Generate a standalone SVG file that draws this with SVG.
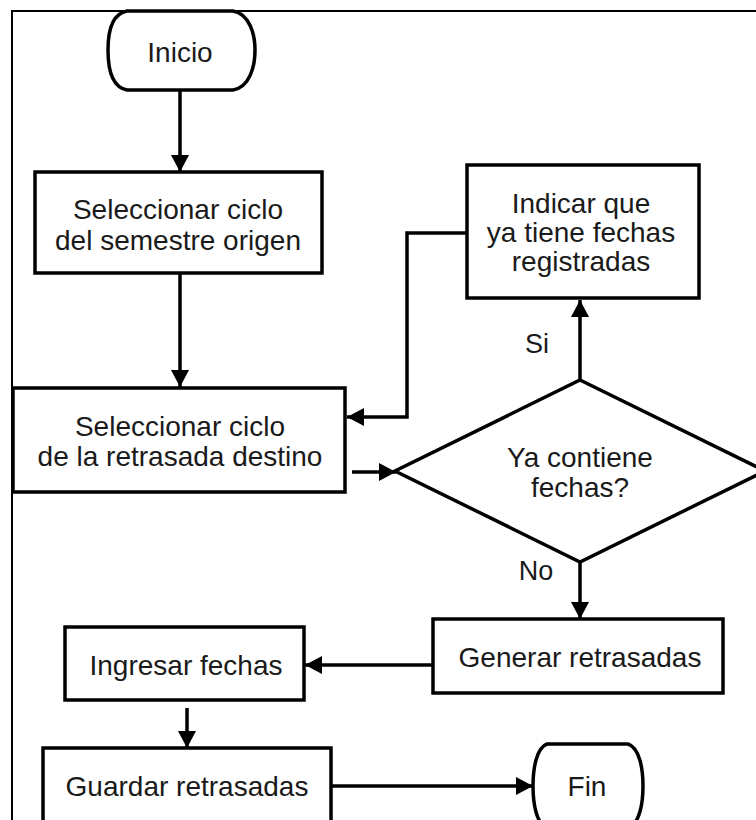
<svg xmlns="http://www.w3.org/2000/svg" width="756" height="820" viewBox="0 0 756 820">
  <style>
    .shape { fill: #ffffff; stroke: #000000; stroke-width: 3.5; }
    .frame { fill: none; stroke: #000000; stroke-width: 2; }
    .conn { fill: none; stroke: #000000; stroke-width: 3.5; }
    .t { font-family: "Liberation Sans", Arial, sans-serif; font-size: 28px; fill: #1a1a1a; text-anchor: middle; }
    .lbl { font-family: "Liberation Sans", Arial, sans-serif; font-size: 27px; fill: #1a1a1a; text-anchor: middle; }
  </style>
  <defs>
    <marker id="arrow" markerUnits="userSpaceOnUse" viewBox="0 0 17 18" refX="17" refY="9" markerWidth="17" markerHeight="18" orient="auto">
      <path d="M0,0 L17,9 L0,18 Z" fill="#000000"/>
    </marker>
  </defs>
  <rect x="0" y="0" width="756" height="820" fill="#ffffff"/>
  <path class="frame" d="M12,820 V11 H756"/>

  <g id="connectors">
    <path class="conn" d="M180,90 V172" marker-end="url(#arrow)"/>
    <path class="conn" d="M180,273 V387" marker-end="url(#arrow)"/>
    <path class="conn" d="M467,233 H407 V417 H347" marker-end="url(#arrow)"/>
    <path class="conn" d="M352,472 H396" marker-end="url(#arrow)"/>
    <path class="conn" d="M580,380 V300" marker-end="url(#arrow)"/>
    <path class="conn" d="M580,562 V619" marker-end="url(#arrow)"/>
    <path class="conn" d="M433,665 H305" marker-end="url(#arrow)"/>
    <path class="conn" d="M187,708 V748" marker-end="url(#arrow)"/>
    <path class="conn" d="M331,786 H533" marker-end="url(#arrow)"/>
  </g>

  <g id="inicio">
    <path class="shape" d="M127,11 H233 C250,14 255,35 255,50 C255,66 250,87 233,90 H127 C111,87 108,66 108,50 C108,35 111,14 127,11 Z"/>
    <text class="t" x="180" y="62">Inicio</text>
  </g>

  <g id="sel-origen">
    <rect class="shape" x="35" y="172" width="287" height="101"/>
    <text class="t" x="178" y="219">Seleccionar ciclo</text>
    <text class="t" x="178" y="250">del semestre origen</text>
  </g>

  <g id="sel-destino">
    <rect class="shape" x="13" y="388" width="332" height="104"/>
    <text class="t" x="180" y="436">Seleccionar ciclo</text>
    <text class="t" x="180" y="466">de la retrasada destino</text>
  </g>

  <g id="indicar">
    <rect class="shape" x="467" y="165" width="232" height="133"/>
    <text class="t" x="581" y="213">Indicar que</text>
    <text class="t" x="581" y="242">ya tiene fechas</text>
    <text class="t" x="581" y="271">registradas</text>
  </g>

  <g id="decision">
    <polygon class="shape" points="580,380 765,471 580,562 395,471"/>
    <text class="t" x="580" y="467">Ya contiene</text>
    <text class="t" x="580" y="497">fechas?</text>
  </g>

  <g id="labels">
    <text class="lbl" x="537" y="353">Si</text>
    <text class="lbl" x="536" y="580">No</text>
  </g>

  <g id="generar">
    <rect class="shape" x="433" y="619" width="290" height="74"/>
    <text class="t" x="580" y="667">Generar retrasadas</text>
  </g>

  <g id="ingresar">
    <rect class="shape" x="65" y="627" width="239" height="73"/>
    <text class="t" x="186" y="675">Ingresar fechas</text>
  </g>

  <g id="guardar">
    <rect class="shape" x="43" y="748" width="288" height="84"/>
    <text class="t" x="187" y="796">Guardar retrasadas</text>
  </g>

  <g id="fin">
    <path class="shape" d="M547,744 H628 C640,748 643,770 643,786 C643,802 640,824 628,828 H547 C536,824 533,802 533,786 C533,770 536,748 547,744 Z"/>
    <text class="t" x="587" y="796">Fin</text>
  </g>
</svg>
